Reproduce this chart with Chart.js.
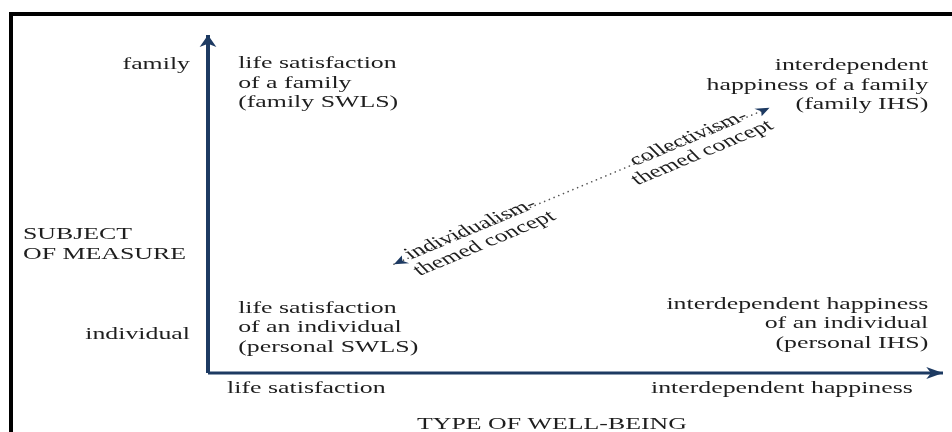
<!DOCTYPE html>
<html>
<head>
<meta charset="utf-8">
<script src="https://cdn.jsdelivr.net/npm/chart.js@4.4.1/dist/chart.umd.min.js"></script>
<style>
  html, body { margin: 0; padding: 0; background: #fff; }
  #wrap { position: relative; width: 952px; height: 432px; overflow: hidden; }
  #frame { position: absolute; left: 9px; top: 12px; width: 980px; height: 460px;
           border-left: 4px solid #000; border-top: 4px solid #000; }
  canvas { position: absolute; left: 0; top: 0; }
</style>
</head>
<body>
<div id="wrap">
  <div id="frame"></div>
  <canvas id="chart" width="952" height="432"></canvas>
</div>
<script>
// axis categories and where their labels sit (data units, 0..1)
const subjectLabels = ['individual', 'family'];
const subjectPos = [0.10, 0.90];
const typeLabels = ['life satisfaction', 'interdependent happiness'];
const typePos = [0.026, 0.959];

// the two axes and the diagonal concept arrow
const xAxisLine = [{ x: 0, y: 0 }, { x: 1, y: 0 }];
const yAxisLine = [{ x: 0, y: 0 }, { x: 0, y: 1 }];
const conceptLine = [{ x: 0.253, y: 0.322 }, { x: 0.764, y: 0.785 }];

// quadrant labels
const quadrantText = [
  ['life satisfaction', 'of a family', '(family SWLS)'],
  ['interdependent', 'happiness of a family', '(family IHS)'],
  ['life satisfaction', 'of an individual', '(personal SWLS)'],
  ['interdependent happiness', 'of an individual', '(personal IHS)']
];
const quadrantX = [0.041, 0.98, 0.041, 0.98];
const quadrantY = [0.902, 0.896, 0.178, 0.190];
const quadrantAlign = ['left', 'right', 'left', 'right'];

// labels along the diagonal (t = position along the concept line)
const conceptText = [
  ['individualism-', 'themed concept'],
  ['collectivism-', 'themed concept']
];
const conceptT = [0.21, 0.79];

const NAVY = '#1d3a62';
const INK = '#1e1e1e';
const FONT = '17px "Liberation Serif", "Times New Roman", serif';
const SX = 1.52; // the source figure is stretched horizontally

function drawText(ctx, str, x, y, align) {
  ctx.save();
  ctx.translate(x, y);
  ctx.scale(SX, 1);
  ctx.textAlign = align;
  ctx.fillText(str, 0, 0);
  ctx.restore();
}

function drawArrow(ctx, tip, from, len, halfW, color) {
  ctx.save();
  ctx.translate(tip.x, tip.y);
  ctx.scale(SX, 1);
  ctx.rotate(Math.atan2(tip.y - from.y, (tip.x - from.x) / SX));
  ctx.beginPath();
  ctx.moveTo(0, 0);
  ctx.lineTo(-len, -halfW);
  ctx.lineTo(-len * 0.72, 0);
  ctx.lineTo(-len, halfW);
  ctx.closePath();
  ctx.fillStyle = color;
  ctx.fill();
  ctx.restore();
}

const arrowPlugin = {
  id: 'arrows',
  afterDatasetsDraw(chart) {
    const ctx = chart.ctx;
    chart.data.datasets.forEach((ds, i) => {
      const pts = chart.getDatasetMeta(i).data;
      if (!ds.arrows) return;
      const n = pts.length;
      if (ds.arrows.includes('end')) drawArrow(ctx, pts[n - 1], pts[n - 2], ds.arrowLen, ds.arrowHalf, ds.arrowColor);
      if (ds.arrows.includes('start')) drawArrow(ctx, pts[0], pts[1], ds.arrowLen, ds.arrowHalf, ds.arrowColor);
    });
  }
};

const labelPlugin = {
  id: 'labels',
  afterDraw(chart) {
    const ctx = chart.ctx;
    const xs = chart.scales.x, ys = chart.scales.y;
    const area = chart.chartArea;
    ctx.save();
    ctx.font = FONT;
    ctx.fillStyle = INK;
    ctx.textBaseline = 'alphabetic';

    // subject-of-measure ticks, right of which is the y axis
    subjectLabels.forEach((s, i) => {
      drawText(ctx, s, area.left - 18, ys.getPixelForValue(subjectPos[i]), 'right');
    });
    // type-of-well-being ticks below the x axis
    typeLabels.forEach((s, i) => {
      drawText(ctx, s, xs.getPixelForValue(typePos[i]), ys.getPixelForValue(0) + 20, i === 0 ? 'left' : 'right');
    });
    // axis titles
    drawText(ctx, 'SUBJECT', area.left - 185, ys.getPixelForValue(0.396), 'left');
    drawText(ctx, 'OF MEASURE', area.left - 185, ys.getPixelForValue(0.396) + 20, 'left');
    drawText(ctx, 'TYPE OF WELL-BEING', xs.getPixelForValue(0.468), ys.getPixelForValue(0) + 56, 'center');

    // quadrants
    quadrantText.forEach((lines, q) => {
      const x = xs.getPixelForValue(quadrantX[q]);
      const y0 = ys.getPixelForValue(quadrantY[q]);
      const lh = q < 2 ? 19.5 : 19.5;
      lines.forEach((l, k) => drawText(ctx, l, x, y0 + k * lh, quadrantAlign[q]));
    });

    // rotated labels on the diagonal
    const pts = chart.getDatasetMeta(2).data;
    const a = pts[0], b = pts[1];
    const ang = Math.atan2(b.y - a.y, (b.x - a.x) / SX);
    conceptText.forEach((lines, j) => {
      const t = conceptT[j];
      ctx.save();
      ctx.translate(a.x + (b.x - a.x) * t, a.y + (b.y - a.y) * t);
      ctx.scale(SX, 1);
      ctx.rotate(ang);
      ctx.textAlign = 'center';
      ctx.fillText(lines[0], 0, 2);
      ctx.fillText(lines[1], 0, 19);
      ctx.restore();
    });
    ctx.restore();
  }
};

new Chart(document.getElementById('chart'), {
  type: 'scatter',
  data: {
    datasets: [
      { data: yAxisLine, showLine: true, borderColor: NAVY, borderWidth: 4, pointRadius: 0,
        clip: false, arrows: ['end'], arrowLen: 12, arrowHalf: 5.5, arrowColor: NAVY },
      { data: xAxisLine, showLine: true, borderColor: NAVY, borderWidth: 3, pointRadius: 0,
        clip: false, arrows: ['end'], arrowLen: 11, arrowHalf: 6, arrowColor: NAVY },
      { data: conceptLine, showLine: true, borderColor: '#555', borderWidth: 1.6,
        borderDash: [0.1, 5], borderCapStyle: 'round', pointRadius: 0,
        clip: false, arrows: ['start', 'end'], arrowLen: 9, arrowHalf: 4.5, arrowColor: NAVY }
    ]
  },
  options: {
    responsive: false,
    animation: false,
    events: [],
    layout: { padding: { left: 208, right: 9, top: 35, bottom: 59 } },
    scales: {
      x: { type: 'linear', min: 0, max: 1, display: false },
      y: { type: 'linear', min: 0, max: 1, display: false }
    },
    plugins: { legend: { display: false }, tooltip: { enabled: false } }
  },
  plugins: [arrowPlugin, labelPlugin]
});
</script>
</body>
</html>
